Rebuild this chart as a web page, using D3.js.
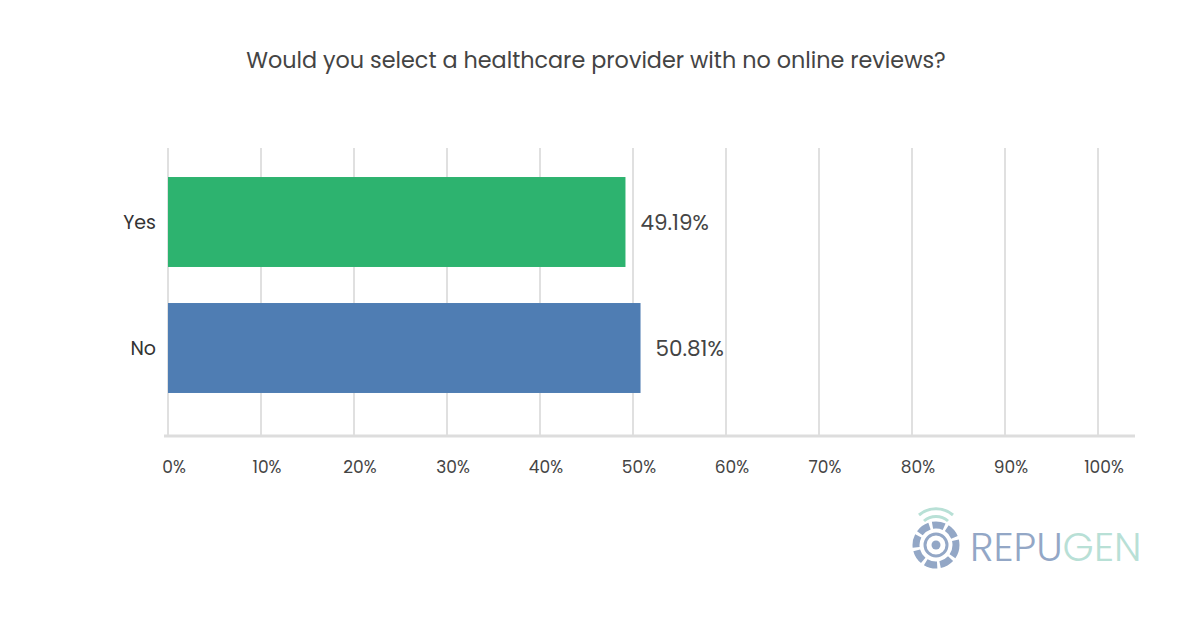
<!DOCTYPE html>
<html>
<head>
<meta charset="utf-8">
<script src="https://cdn.jsdelivr.net/npm/d3@7"></script>
<style>
body { margin: 0; background: #fff; }
text { font-family: Poppins, "Noto Sans", sans-serif; }
</style>
</head>
<body>
<svg id="chart" width="1200" height="623"></svg>
<script>
var categories = ['Yes', 'No']
var values = [49.19, 50.81]
var colors = ['#2db36f', '#4f7db3']
var ticks = [0, 10, 20, 30, 40, 50, 60, 70, 80, 90, 100]

var svg = d3.select('#chart')

svg.append('text').attr('x', 596).attr('y', 68).attr('text-anchor', 'middle')
	.attr('font-size', 22.3).attr('fill', '#444')
	.text('Would you select a healthcare provider with no online reviews?')

var x = d3.scaleLinear().domain([0, 100]).range([168, 1098])
var y = d3.scaleBand().domain(categories).range([159, 411]).paddingInner(0.286).paddingOuter(0.143)

// grid
svg.selectAll('line.grid').data(ticks).enter().append('line')
	.attr('x1', function(d) { return x(d) }).attr('x2', function(d) { return x(d) })
	.attr('y1', 148).attr('y2', 436)
	.attr('stroke', '#e0e0e0').attr('stroke-width', 2)

svg.append('line').attr('x1', 164).attr('x2', 1135).attr('y1', 436).attr('y2', 436)
	.attr('stroke', '#ddd').attr('stroke-width', 3)

svg.selectAll('text.tick').data(ticks).enter().append('text')
	.attr('x', function(d) { return x(d) + 6 }).attr('y', 473)
	.attr('text-anchor', 'middle').attr('font-size', 17).attr('fill', '#444')
	.text(function(d) { return d + '%' })

svg.selectAll('rect.bar').data(values).enter().append('rect')
	.attr('x', x(0)).attr('y', function(d, i) { return y(categories[i]) })
	.attr('width', function(d) { return x(d) - x(0) }).attr('height', y.bandwidth())
	.attr('fill', function(d, i) { return colors[i] })

svg.selectAll('text.cat').data(categories).enter().append('text')
	.attr('x', 156).attr('y', function(d) { return y(d) + y.bandwidth() / 2 + 7 })
	.attr('text-anchor', 'end').attr('font-size', 19).attr('fill', '#333')
	.text(function(d) { return d })

svg.selectAll('text.val').data(values).enter().append('text')
	.attr('x', function(d) { return x(d) + 15 }).attr('y', function(d, i) { return y(categories[i]) + y.bandwidth() / 2 + 8 })
	.attr('font-size', 21.5).attr('fill', '#444')
	.text(function(d) { return d.toFixed(2) + '%' })

// logo
var logo = svg.append('g').attr('transform', 'translate(936,545)')
logo.append('circle').attr('r', 20).attr('fill', 'none').attr('stroke', '#93a7c6').attr('stroke-width', 7)
	.attr('stroke-dasharray', '12 3')
logo.append('circle').attr('r', 11).attr('fill', 'none').attr('stroke', '#93a7c6').attr('stroke-width', 3)
logo.append('circle').attr('r', 4.5).attr('fill', '#93a7c6')
logo.append('path').attr('d', 'M-12,-24 A18,18 0 0 1 12,-24').attr('fill', 'none').attr('stroke', '#b8e0d6').attr('stroke-width', 3)
logo.append('path').attr('d', 'M-17,-30 A26,26 0 0 1 17,-30').attr('fill', 'none').attr('stroke', '#b8e0d6').attr('stroke-width', 3)
var lt = svg.append('text').attr('x', 970).attr('y', 561).attr('font-size', 40).attr('font-weight', 300)
	.attr('font-family', 'Lato, sans-serif')
lt.append('tspan').attr('fill', '#93a7c6').text('REPU')
lt.append('tspan').attr('fill', '#b8e0d6').text('GEN')
</script>
</body>
</html>
